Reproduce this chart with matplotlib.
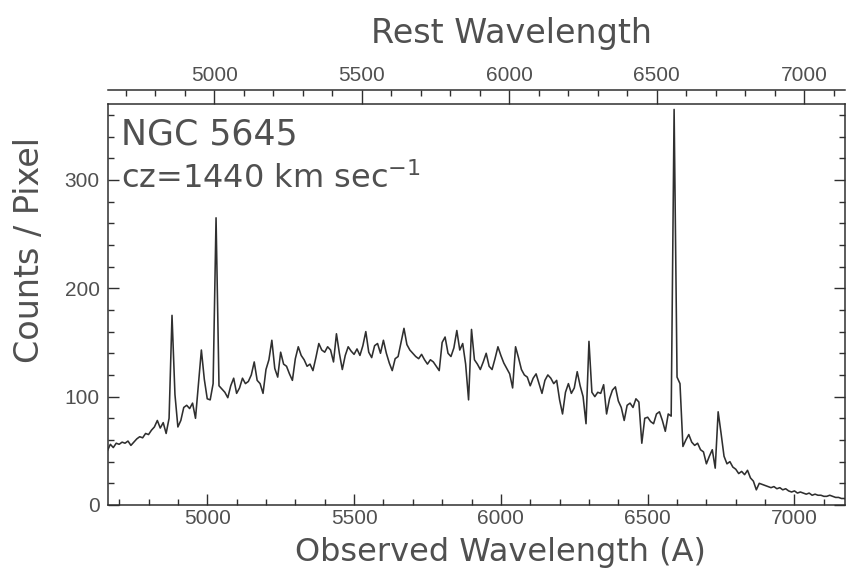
import numpy as np
import matplotlib

matplotlib.use("Agg")
import matplotlib.pyplot as plt
from matplotlib.ticker import MultipleLocator

# NGC 5645 long-slit spectrum, counts per pixel on a 10 A grid starting at 4660 A
CZ_KMS = 1440.0
LAMBDA_START = 4660
LAMBDA_STEP = 10

counts = [
    # 4660 - 4750
    50, 56, 53, 57, 56, 58, 57, 59, 55, 58,
    # 4760 - 4850
    61, 63, 62, 66, 65, 69, 72, 78, 71, 76,
    # 4860 - 4950  (H beta)
    66, 80, 175, 102, 72, 78, 90, 92, 89, 94,
    # 4960 - 5050  ([O III] 4959, 5007)
    80, 112, 143, 116, 98, 97, 112, 265, 110, 107,
    # 5060 - 5150
    104, 99, 110, 117, 103, 108, 117, 112, 114, 120,
    # 5160 - 5250
    132, 115, 112, 103, 125, 134, 152, 126, 118, 141,
    # 5260 - 5350
    130, 128, 121, 115, 135, 146, 138, 134, 128, 130,
    # 5360 - 5450
    124, 136, 149, 143, 141, 146, 143, 132, 158, 140,
    # 5460 - 5550
    125, 138, 146, 142, 139, 144, 138, 147, 160, 141,
    # 5560 - 5650
    136, 147, 149, 140, 152, 140, 131, 124, 135, 137,
    # 5660 - 5750
    150, 163, 148, 143, 140, 137, 135, 139, 134, 130,
    # 5760 - 5850
    134, 132, 128, 124, 150, 155, 140, 137, 145, 161,
    # 5860 - 5950
    143, 149, 130, 97, 162, 134, 130, 125, 132, 140,
    # 5960 - 6050
    128, 125, 135, 146, 138, 131, 126, 121, 108, 146,
    # 6060 - 6150
    136, 125, 120, 118, 110, 117, 121, 112, 103, 115,
    # 6160 - 6250
    120, 117, 112, 115, 97, 84, 104, 112, 103, 108,
    # 6260 - 6350
    123, 110, 100, 75, 151, 104, 100, 104, 103, 111,
    # 6360 - 6450
    84, 98, 106, 109, 96, 90, 78, 92, 94, 90,
    # 6460 - 6550
    98, 95, 57, 80, 81, 77, 75, 84, 86, 78,
    # 6560 - 6650  (H alpha, [N II])
    68, 84, 82, 365, 118, 112, 54, 60, 65, 58,
    # 6660 - 6750  ([S II])
    55, 57, 51, 49, 38, 45, 51, 34, 86, 66,
    # 6760 - 6850
    45, 38, 40, 35, 33, 29, 31, 28, 32, 25,
    # 6860 - 6950
    22, 14, 20, 19, 18, 17, 16, 17, 15, 16,
    # 6960 - 7050
    14, 15, 13, 12, 13, 11, 12, 11, 10, 11,
    # 7060 - 7150
    9, 10, 9, 9, 8, 8, 9, 8, 7, 7,
    # 7160 - 7180
    6, 6, 5,
]

x_limits = (4662, 7172)
y_limits = (0, 370)
x_major = 500
x_minor = 100
y_ticks = [0, 100, 200, 300]
y_minor = 20

wavelength = LAMBDA_START + LAMBDA_STEP * np.arange(len(counts))
redshift = CZ_KMS / 299792.458

INK = "#2f2f2f"
TEXT = "#505050"
plt.rcParams["font.family"] = ["DejaVu Sans"]
plt.rcParams["text.color"] = TEXT
plt.rcParams["axes.edgecolor"] = INK
plt.rcParams["xtick.color"] = INK
plt.rcParams["ytick.color"] = INK
plt.rcParams["xtick.labelcolor"] = TEXT
plt.rcParams["ytick.labelcolor"] = TEXT

W, H = 849, 574
fig = plt.figure(figsize=(W / 100, H / 100), dpi=100)
fig.patch.set_facecolor("white")

left, right, top, bottom = 108, 845, 104, 505
ax = fig.add_axes([left / W, 1 - bottom / H, (right - left) / W, (bottom - top) / H])
ax.plot(wavelength, counts, color=INK, linewidth=1.15)

ax.set_xlim(*x_limits)
ax.set_ylim(*y_limits)
ax.xaxis.set_major_locator(MultipleLocator(x_major))
ax.xaxis.set_minor_locator(MultipleLocator(x_minor))
ax.set_yticks(y_ticks)
ax.yaxis.set_minor_locator(MultipleLocator(y_minor))
ax.tick_params(which="both", direction="in", top=True, right=True, width=1.0)
ax.tick_params(which="major", length=8, labelsize=15,
               labelfontfamily="Liberation Sans")
ax.tick_params(axis="x", which="major", pad=3)
ax.tick_params(axis="y", which="major", pad=6)
ax.tick_params(which="minor", length=4)
for spine in ax.spines.values():
    spine.set_linewidth(1.1)

# rest-frame wavelength scale drawn as a second rule just above the frame
rest = ax.twiny()
rest.set_xlim(x_limits[0] / (1 + redshift), x_limits[1] / (1 + redshift))
rest.xaxis.set_major_locator(MultipleLocator(x_major))
rest.xaxis.set_minor_locator(MultipleLocator(x_minor))
rest.spines["top"].set_position(("outward", 10))
rest.spines["top"].set_linewidth(1.1)
for side in ("bottom", "left", "right"):
    rest.spines[side].set_visible(False)
rest.tick_params(which="both", direction="in", width=1.0)
rest.tick_params(which="major", length=10, pad=4, labelsize=15,
                 labelfontfamily="Liberation Sans")
rest.tick_params(which="minor", length=4)

fig.text(512 / W, 1 - 33 / H, "Rest Wavelength", fontsize=24,
         ha="center", va="center")
fig.text(500 / W, 1 - 553 / H, "Observed Wavelength (A)", fontsize=23,
         ha="center", va="center")
fig.text(30 / W, 1 - 250 / H, "Counts / Pixel", fontsize=24, rotation=90,
         ha="center", va="center")

ax.text(0.018, 0.925, "NGC 5645", transform=ax.transAxes, fontsize=25,
        ha="left", va="center")
ax.text(0.018, 0.815, "cz=1440 km sec$^{-1}$", transform=ax.transAxes,
        fontsize=23, ha="left", va="center")

fig.savefig("out.png", dpi=100, facecolor="white")
